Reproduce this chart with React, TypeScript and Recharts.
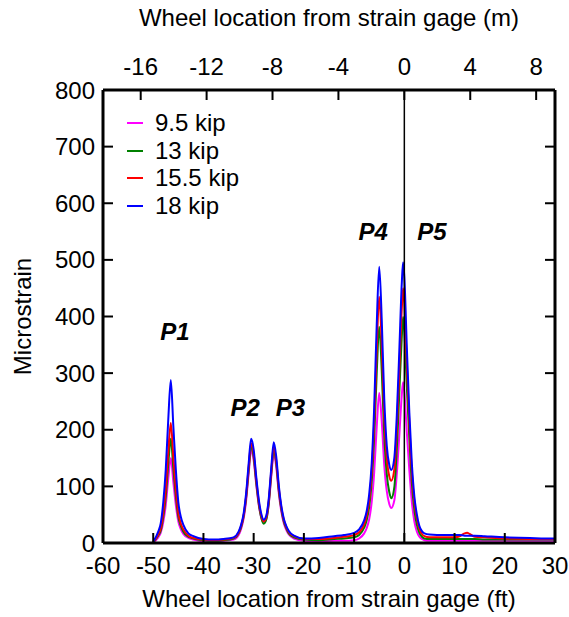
import React from 'react';
import { LineChart, Line, XAxis, YAxis, ReferenceLine, ReferenceDot, Legend } from 'recharts';

const FONT = '"Liberation Sans", Arial, Helvetica, sans-serif';
const FT_TO_M = 0.3048;

// wheel location from strain gage (ft)
const xFt = [
  -50, -49, -48.5, -48, -47.5, -47, -46.5, -46, -45.5, -45,
  -44.5, -44, -43, -42, -40, -38, -36, -34, -33, -32.5,
  -32, -31.5, -31, -30.5, -30, -29.5, -29, -28.5, -28, -27.5,
  -27, -26.5, -26, -25.5, -25, -24.5, -24, -23.5, -23, -22,
  -20, -17, -14, -12, -10, -9, -8, -7.5, -7, -6.5,
  -6, -5.5, -5, -4.5, -4, -3.5, -3, -2.6, -2, -1.5,
  -1, -0.5, -0.25, 0, 0.5, 1, 1.5, 2, 2.5, 3,
  3.5, 4, 5, 8, 10, 11, 12, 12.5, 13, 14,
  16, 20, 25, 28, 30,
];

// microstrain per wheel load
const kip95 = [
  1, 10, 18, 37, 67, 114, 150, 108, 67, 38,
  24, 16, 9, 6, 3, 3, 4, 6, 14, 25,
  43, 75, 122, 163, 146, 104, 68, 45, 36, 42,
  68, 117, 158, 134, 88, 56, 35, 23, 15, 8,
  4, 3, 4, 4, 5, 8, 17, 26, 42, 72,
  125, 205, 265, 215, 138, 92, 69, 62, 75, 122,
  190, 262, 284, 268, 195, 128, 72, 38, 20, 11,
  7, 5, 4, 4, 4, 4, 4, 4, 4, 4,
  4, 4, 4, 4, 4,
];
const kip13 = [
  1, 13, 22, 46, 83, 140, 184, 132, 83, 46,
  30, 20, 11, 8, 5, 4, 5, 8, 17, 28,
  47, 80, 128, 170, 152, 108, 70, 45, 34, 41,
  70, 122, 165, 140, 93, 60, 38, 26, 17, 10,
  6, 5, 7, 8, 10, 14, 27, 40, 64, 108,
  186, 300, 382, 305, 190, 122, 90, 79, 98, 165,
  265, 365, 399, 375, 275, 185, 105, 58, 32, 18,
  11, 8, 7, 7, 7, 7, 7, 7, 7, 7,
  6, 6, 6, 6, 6,
];
const kip155 = [
  2, 15, 26, 53, 95, 161, 212, 153, 95, 53,
  34, 24, 13, 9, 6, 5, 6, 9, 18, 30,
  49, 83, 133, 176, 158, 113, 74, 49, 38, 45,
  74, 126, 170, 145, 97, 63, 41, 28, 19, 12,
  7, 7, 9, 11, 14, 19, 33, 48, 75, 124,
  213, 342, 435, 352, 225, 150, 118, 110, 130, 200,
  305, 415, 450, 425, 315, 210, 125, 72, 43, 25,
  16, 12, 10, 10, 10, 12, 17, 18, 16, 11,
  10, 8, 7, 7, 7,
];
const kip18 = [
  2, 20, 35, 72, 130, 219, 288, 207, 130, 72,
  46, 32, 17, 12, 7, 6, 7, 10, 20, 32,
  52, 88, 140, 184, 165, 118, 78, 52, 41, 48,
  78, 132, 178, 152, 102, 66, 43, 30, 21, 13,
  8, 9, 12, 14, 18, 24, 40, 56, 86, 140,
  240, 385, 488, 395, 255, 172, 138, 129, 150, 225,
  340, 460, 496, 470, 345, 230, 140, 82, 50, 30,
  21, 17, 15, 14, 14, 14, 13, 13, 13, 13,
  12, 10, 9, 8, 8,
];

const seriesDefs = [
  { key: 'kip95', name: '9.5 kip', color: '#ff00ff', values: kip95 },
  { key: 'kip13', name: '13 kip', color: '#008000', values: kip13 },
  { key: 'kip155', name: '15.5 kip', color: '#ff0000', values: kip155 },
  { key: 'kip18', name: '18 kip', color: '#0000ff', values: kip18 },
];

const ftTicks = [-60, -50, -40, -30, -20, -10, 0, 10, 20, 30];
const mTicks = [-16, -12, -8, -4, 0, 4, 8];
const strainTicks = [0, 100, 200, 300, 400, 500, 600, 700, 800];

const peakNames = ['P1', 'P2', 'P3', 'P4', 'P5'];
const peakX = [-45.7, -31.7, -22.7, -6.2, 5.5];
const peakY = [374, 240, 240, 550, 550];

const data = xFt.map((x, i) => {
  const row: Record<string, number> = { x, xm: x * FT_TO_M };
  seriesDefs.forEach((s) => {
    row[s.key] = s.values[i];
  });
  return row;
});

const tickStyle = { fontSize: 24, fill: '#000', fontFamily: FONT };
const axisLine = { stroke: '#000', strokeWidth: 3 };
const tickLine = { stroke: '#000', strokeWidth: 2 };

// keep legend rows in the series order, not alphabetical
function KipLegend({ payload }: { payload?: any[] }) {
  const items = seriesDefs
    .map((s) => (payload ?? []).find((p) => p.value === s.name))
    .filter(Boolean);
  return (
    <div style={{ fontFamily: FONT, fontSize: 24, lineHeight: '27.7px', color: '#000' }}>
      {items.map((p: any) => (
        <div key={p.value} style={{ display: 'flex', alignItems: 'center', whiteSpace: 'nowrap' }}>
          <span style={{ display: 'inline-block', width: 16, height: 2, background: p.color, marginRight: 12 }} />
          {p.value}
        </div>
      ))}
    </div>
  );
}

export default function App() {
  return (
    <div style={{ position: 'absolute', left: 0, top: 0, width: 569, height: 617, background: '#fff' }}>
      <LineChart width={569} height={617} data={data} margin={{ top: 0, right: 0, bottom: 0, left: 0 }}>
        <XAxis
          xAxisId="ft"
          dataKey="x"
          type="number"
          orientation="bottom"
          domain={[-60, 30]}
          ticks={ftTicks}
          allowDataOverflow
          interval={0}
          height={74}
          tickSize={-10}
          tickMargin={24}
          tick={tickStyle}
          axisLine={axisLine}
          tickLine={tickLine}
          label={{
            value: 'Wheel location from strain gage (ft)',
            position: 'insideBottom',
            offset: 10,
            fontSize: 24,
            fill: '#000',
            fontFamily: FONT,
          }}
        />
        <XAxis
          xAxisId="m"
          dataKey="xm"
          type="number"
          orientation="top"
          domain={[-60 * FT_TO_M, 30 * FT_TO_M]}
          ticks={mTicks}
          allowDataOverflow
          interval={0}
          height={90}
          tickSize={-10}
          tickMargin={25}
          tick={tickStyle}
          axisLine={axisLine}
          tickLine={tickLine}
          label={{
            value: 'Wheel location from strain gage (m)',
            position: 'insideTop',
            offset: 9,
            fontSize: 24,
            fill: '#000',
            fontFamily: FONT,
          }}
        />
        <YAxis
          yAxisId="left"
          type="number"
          domain={[0, 800]}
          ticks={strainTicks}
          allowDataOverflow
          interval={0}
          width={103}
          tickSize={-10}
          tickMargin={18}
          tick={tickStyle}
          axisLine={axisLine}
          tickLine={tickLine}
          label={{
            value: 'Microstrain',
            angle: -90,
            position: 'insideLeft',
            offset: 22,
            fontSize: 24,
            fill: '#000',
            fontFamily: FONT,
            style: { textAnchor: 'middle' },
          }}
        />
        <YAxis
          yAxisId="right"
          orientation="right"
          type="number"
          domain={[0, 800]}
          ticks={strainTicks}
          allowDataOverflow
          interval={0}
          width={14}
          tickSize={-10}
          tickFormatter={() => ''}
          axisLine={axisLine}
          tickLine={tickLine}
        />
        <Legend
          layout="horizontal"
          verticalAlign="middle"
          align="center"
          content={<KipLegend />}
          wrapperStyle={{ top: 109, left: 127, width: 'auto', height: 'auto' }}
        />
        {seriesDefs.map((s) => (
          <Line
            key={s.key}
            xAxisId="ft"
            yAxisId="left"
            type="monotone"
            dataKey={s.key}
            name={s.name}
            stroke={s.color}
            strokeWidth={2}
            dot={false}
            activeDot={false}
            isAnimationActive={false}
          />
        ))}
        <ReferenceLine xAxisId="ft" yAxisId="left" x={0} stroke="#000" strokeWidth={1.5} />
        {peakNames.map((name, i) => (
          <ReferenceDot
            key={name}
            xAxisId="ft"
            yAxisId="left"
            x={peakX[i]}
            y={peakY[i]}
            r={0}
            fill="none"
            stroke="none"
            label={{
              value: name,
              position: 'center',
              fontSize: 24,
              fontWeight: 'bold',
              fontStyle: 'italic',
              fill: '#000',
              fontFamily: FONT,
            }}
          />
        ))}
      </LineChart>
    </div>
  );
}
